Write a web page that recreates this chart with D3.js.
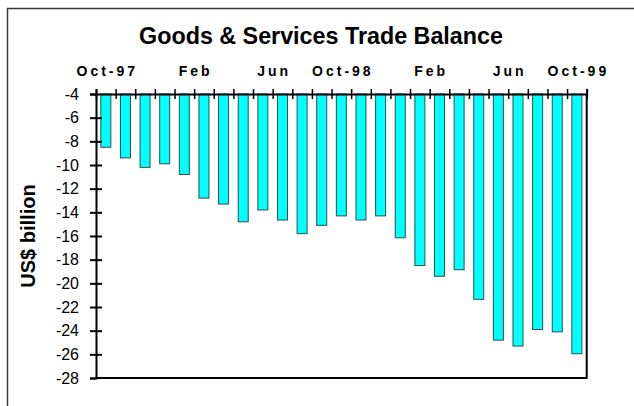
<!DOCTYPE html>
<html>
<head>
<meta charset="utf-8">
<script src="https://cdn.jsdelivr.net/npm/d3@7"></script>
<style>
  html, body { margin: 0; padding: 0; background: #fff; }
  svg { display: block; font-family: Arial, "Liberation Sans", sans-serif; }
</style>
</head>
<body>
<svg id="chart" width="634" height="406"></svg>
<script>
// Monthly U.S. goods & services trade balance, Oct 1997 – Oct 1999 (US$ billion)
const months = [
  "1997-10", "1997-11", "1997-12", "1998-01", "1998-02", "1998-03", "1998-04",
  "1998-05", "1998-06", "1998-07", "1998-08", "1998-09", "1998-10", "1998-11",
  "1998-12", "1999-01", "1999-02", "1999-03", "1999-04", "1999-05", "1999-06",
  "1999-07", "1999-08", "1999-09", "1999-10"
];
const balance = [
  -8.5, -9.4, -10.2, -9.9, -10.8, -12.8, -13.3,
  -14.8, -13.8, -14.65, -15.8, -15.1, -14.3, -14.65,
  -14.3, -16.15, -18.5, -19.4, -18.85, -21.35, -24.8,
  -25.3, -23.9, -24.1, -25.95
];
// Category labels along the top, with the month slot each one is centred on
const topLabels = ["Oct-97", "Feb", "Jun", "Oct-98", "Feb", "Jun", "Oct-99"];
const topLabelAt = [0, 4.5, 8.5, 12, 16.5, 20.5, 24];
const yTicks = [-4, -6, -8, -10, -12, -14, -16, -18, -20, -22, -24, -26, -28];
const yDomain = [-28, -4];

const svg = d3.select("#chart");
const plot = { left: 96, right: 586.7, top: 94, bottom: 378 };

// Outer chart frame
svg.append("rect")
  .attr("x", 7.5).attr("y", 8.5)
  .attr("width", 700).attr("height", 500)
  .attr("fill", "none")
  .attr("stroke", "#3a3a3a")
  .attr("stroke-width", 1.5);

const x = d3.scaleBand()
  .domain(months)
  .range([plot.left, plot.right])
  .paddingInner(0.49)
  .paddingOuter(0.245);

// slot scale: month index -> centre of that month's slot
const slot = d3.scaleLinear()
  .domain([0, months.length])
  .range([plot.left, plot.right]);

const y = d3.scaleLinear().domain(yDomain).range([plot.bottom, plot.top]);

// Bars hang from the top of the axis (-4) down to each month's value
svg.append("g")
  .selectAll("rect")
  .data(balance)
  .join("rect")
  .attr("x", (d, i) => x(months[i]))
  .attr("width", x.bandwidth())
  .attr("y", y(yDomain[1]))
  .attr("height", d => y(d) - y(yDomain[1]))
  .attr("fill", "#00ffff")
  .attr("stroke", "#2f4f4f")
  .attr("stroke-width", 1);

// Plot area border (right and bottom)
svg.append("path")
  .attr("d", `M${plot.right},${plot.top}V${plot.bottom}H${plot.left}`)
  .attr("fill", "none")
  .attr("stroke", "#000")
  .attr("stroke-width", 2);

// Left value axis with ticks crossing the axis line
const yAxis = svg.append("g")
  .attr("transform", `translate(${plot.left},0)`)
  .call(d3.axisLeft(y).tickValues(yTicks).tickFormat(d => String(d))
    .tickSize(6).tickPadding(11));
yAxis.select(".domain").attr("stroke", "#000").attr("stroke-width", 2);
yAxis.selectAll(".tick").filter(d => d !== yDomain[1] && d !== yDomain[0])
  .append("line").attr("x2", 6).attr("stroke", "#000");
yAxis.selectAll(".tick line").attr("stroke-width", 2);
yAxis.selectAll(".tick text")
  .attr("font-size", 16)
  .attr("font-family", "Arial, 'Liberation Sans', sans-serif")
  .attr("fill", "#000");

// Top category axis: tick marks at the month boundaries
const xAxis = svg.append("g")
  .attr("transform", `translate(0,${plot.top})`)
  .call(d3.axisTop(slot).tickValues(d3.range(months.length + 1))
    .tickFormat("").tickSize(5));
xAxis.select(".domain").attr("stroke", "#000").attr("stroke-width", 2);
xAxis.selectAll(".tick").append("line").attr("y2", 5).attr("stroke", "#000");
xAxis.selectAll(".tick line").attr("stroke-width", 1.5);

// Category labels
svg.append("g")
  .selectAll("text")
  .data(topLabels)
  .join("text")
  .attr("x", (d, i) => slot(topLabelAt[i] + 0.5) + 1.5)
  .attr("y", 76)
  .attr("text-anchor", "middle")
  .attr("font-size", 14)
  .attr("font-weight", "bold")
  .attr("letter-spacing", 3)
  .text(d => d);

// Title
svg.append("text")
  .attr("x", 321)
  .attr("y", 44)
  .attr("text-anchor", "middle")
  .attr("font-size", 23.3)
  .attr("font-weight", "bold")
  .text("Goods & Services Trade Balance");

// Value axis title
svg.append("text")
  .attr("transform", `translate(35,${(plot.top + plot.bottom) / 2}) rotate(-90)`)
  .attr("text-anchor", "middle")
  .attr("font-size", 20)
  .attr("font-weight", "bold")
  .text("US$ billion");
</script>
</body>
</html>
